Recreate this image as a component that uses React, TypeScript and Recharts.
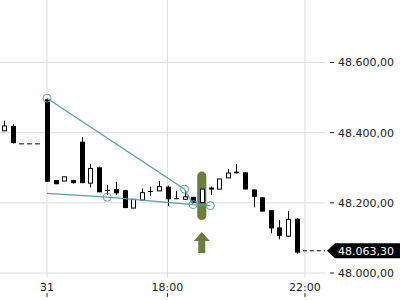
import { Bar, CartesianGrid, ComposedChart, Line, ReferenceArea, ReferenceDot, ReferenceLine, XAxis, YAxis } from 'recharts';

// 15 minute candles, slot 0 = first bar after the gap
const slots = [-5, -4, 0, 1, 2, 3, 4, 5, 6, 7, 8, 9, 10, 11, 12, 13, 14, 15, 16, 17, 18, 19, 20, 21, 22, 23, 24, 25, 26, 27, 28, 29];
const opens = [48405, 48419, 48495, 48265, 48262, 48265, 48374, 48256, 48301, 48237, 48239, 48236, 48185, 48208, 48234, 48234, 48246, 48213, 48210, 48217, 48201, 48240, 48239, 48271, 48289, 48287, 48238, 48216, 48179, 48130, 48105, 48155];
const highs = [48434, 48424, 48496, 48265, 48274, 48265, 48387, 48311, 48303, 48251, 48260, 48237, 48210, 48241, 48246, 48262, 48249, 48234, 48236, 48217, 48239, 48246, 48268, 48296, 48311, 48287, 48238, 48216, 48179, 48151, 48177, 48157];
const lows = [48405, 48369, 48260, 48253, 48262, 48255, 48256, 48244, 48230, 48222, 48222, 48185, 48185, 48208, 48220, 48234, 48191, 48212, 48210, 48200, 48201, 48222, 48239, 48271, 48284, 48238, 48187, 48175, 48113, 48096, 48102, 48055];
const closes = [48419, 48370, 48260, 48253, 48274, 48256, 48256, 48298, 48230, 48234, 48227, 48185, 48210, 48229, 48234, 48246, 48210, 48213, 48217, 48200, 48239, 48242, 48268, 48285, 48284, 48238, 48217, 48175, 48127, 48106, 48153, 48058];

const timeTicks = [0, 14, 30];
const timeLabels = ['31', '18:00', '22:00'];
const priceTicks = [48000, 48200, 48400, 48600];

const lastPrice = 48063.3;
const gapClose = 48368;
const gapRange = [-3.25, -0.55];

// trend line drawings
const upperSlots = [0, 16, 17];
const upperPrices = [48498, 48239, 48195];
const upperMarks = [true, true, false];
const lowerSlots = [0, 7, 17, 19];
const lowerPrices = [48227, 48216, 48195, 48192];
const lowerMarks = [false, true, true, true];

// highlighted signal candle
const signalSlot = 18;
const signalRange = [48151, 48289];
const arrowTip = 48117;

const X_DOMAIN = [-5.47, 32.33];
const Y_DOMAIN = [47985.8, 48777.8];
const TEAL = '#5c9fa4';
const OLIVE = '#6b7c3b';
const FONT = 'DejaVu Sans';

const candles = slots.map((i, k) => ({
  i,
  open: opens[k],
  high: highs[k],
  low: lows[k],
  close: closes[k],
}));

const upperLine = upperSlots.map((i, k) => ({ i, p: upperPrices[k], mark: upperMarks[k] }));
const lowerLine = lowerSlots.map((i, k) => ({ i, p: lowerPrices[k], mark: lowerMarks[k] }));

function fmt(v: number) {
  const [int, dec] = v.toFixed(2).split('.');
  return int.replace(/\B(?=(\d{3})+(?!\d))/g, '.') + ',' + dec;
}

function Candle(props: any) {
  const { x, y, width, height, payload } = props;
  const { open, high, low, close } = payload;
  const range = high - low || 1;
  const py = (v: number) => y + ((high - v) / range) * height;
  const cx = Math.round(x + width / 2) + 0.5;
  const top = py(Math.max(open, close));
  const bot = py(Math.min(open, close));
  const up = close > open;
  const bh = Math.max(bot - top, 1);
  return (
    <g>
      <line x1={cx} x2={cx} y1={y} y2={y + height} stroke="#000" strokeWidth={1} />
      {up ? (
        <rect x={cx - 2} y={top} width={4} height={bh} fill="#fff" stroke="#000" strokeWidth={1} />
      ) : (
        <rect x={cx - 2.5} y={top} width={5} height={bh} fill="#000" />
      )}
    </g>
  );
}

function TrendDot(props: any) {
  const { cx, cy, payload, index } = props;
  if (!payload.mark) return <g key={index} />;
  return <circle key={index} cx={cx} cy={cy} r={4} fill="none" stroke={TEAL} strokeWidth={1} />;
}

function TimeTick(props: any) {
  const { x, y, payload } = props;
  const label = timeLabels[timeTicks.indexOf(payload.value)];
  return (
    <g>
      <text x={x} y={y + 4.5} textAnchor="middle" fontSize={11} fill="#222" fontFamily={FONT}>
        {label}
      </text>
      <line x1={x} x2={x} y1={y + 7} y2={y + 11} stroke="#222" />
    </g>
  );
}

function PriceTick(props: any) {
  const { x, y, payload } = props;
  return (
    <g>
      <line x1={x} x2={x + 4} y1={y} y2={y} stroke="#222" />
      <text x={x + 8} y={y + 4} fontSize={11} fill="#222" fontFamily={FONT}>
        {fmt(payload.value)}
      </text>
    </g>
  );
}

function PriceTag(props: any) {
  const { cx, cy } = props;
  const t = cx + 2;
  return (
    <g>
      <polygon
        points={`${t},${cy} ${t + 8},${cy - 7.5} 400,${cy - 7.5} 400,${cy + 7.5} ${t + 8},${cy + 7.5}`}
        fill="#000"
      />
      <text x={t + 11} y={cy + 4} fontSize={11} fill="#fff" fontFamily={FONT}>
        {fmt(lastPrice)}
      </text>
    </g>
  );
}

function SignalBar(props: any) {
  const { x, y, width, height } = props;
  return <rect x={x} y={y} width={width} height={height} rx={width / 2} fill={OLIVE} />;
}

function Arrow(props: any) {
  const { cx, cy } = props;
  return (
    <path
      d={`M${cx},${cy} L${cx + 8},${cy + 9} L${cx + 3.5},${cy + 9} L${cx + 3.5},${cy + 21} L${cx - 3.5},${cy + 21} L${cx - 3.5},${cy + 9} L${cx - 8},${cy + 9} Z`}
      fill={OLIVE}
    />
  );
}

export default function App() {
  return (
    <div style={{ position: 'absolute', left: 0, top: 0, width: 400, height: 300, background: '#fff' }}>
      <ComposedChart width={400} height={300} data={candles} margin={{ top: 0, right: 0, bottom: 0, left: 0 }}>
        <CartesianGrid stroke="#dcdcdc" horizontalValues={priceTicks} verticalValues={timeTicks} />
        <XAxis
          dataKey="i"
          type="number"
          domain={X_DOMAIN}
          ticks={timeTicks}
          height={22}
          axisLine={false}
          tickLine={false}
          tickSize={6}
          tickMargin={2}
          tick={<TimeTick />}
          allowDataOverflow
        />
        <YAxis
          orientation="right"
          type="number"
          domain={Y_DOMAIN}
          ticks={priceTicks}
          width={75}
          axisLine={false}
          tickLine={false}
          tickSize={4}
          tickMargin={1}
          tick={<PriceTick />}
          allowDataOverflow
        />
        <ReferenceArea
          x1={signalSlot - 0.53}
          x2={signalSlot + 0.53}
          y1={signalRange[0]}
          y2={signalRange[1]}
          shape={<SignalBar />}
        />
        <ReferenceDot x={signalSlot} y={arrowTip} shape={<Arrow />} />
        <ReferenceLine
          segment={[{ x: gapRange[0], y: gapClose }, { x: gapRange[1], y: gapClose }]}
          stroke="#000"
          strokeDasharray="5 3"
        />
        <ReferenceLine
          segment={[{ x: 29.75, y: lastPrice }, { x: X_DOMAIN[1], y: lastPrice }]}
          stroke="#000"
          strokeDasharray="4 3"
        />
        <Bar dataKey={(d: any) => [d.low, d.high]} barSize={5} shape={<Candle />} isAnimationActive={false} />
        <Line
          data={upperLine}
          dataKey="p"
          type="linear"
          stroke={TEAL}
          strokeWidth={1.3}
          dot={<TrendDot />}
          activeDot={false}
          isAnimationActive={false}
        />
        <Line
          data={lowerLine}
          dataKey="p"
          type="linear"
          stroke={TEAL}
          strokeWidth={1.3}
          dot={<TrendDot />}
          activeDot={false}
          isAnimationActive={false}
        />
        <ReferenceDot x={X_DOMAIN[1]} y={lastPrice} shape={<PriceTag />} ifOverflow="visible" />
      </ComposedChart>
    </div>
  );
}
